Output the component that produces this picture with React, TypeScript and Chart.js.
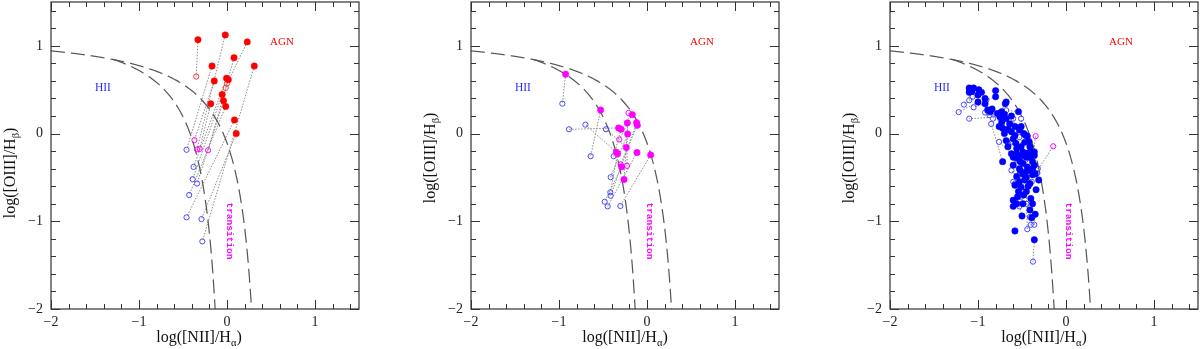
import React, { useEffect, useRef } from "react";
import { Chart, registerables } from "chart.js";
Chart.register(...registerables);

const FONT = '"Liberation Serif", "DejaVu Serif", serif';
const MONO = '"Liberation Mono", "DejaVu Sans Mono", monospace';

// Axis ranges and ticks
const X_MIN = -2;
const X_MAX = 1.5;
const Y_MIN = -2;
const Y_MAX = 1.5;
const MAJOR_STEP = 1;
const MINOR_STEP = 0.2;

// Demarcation curves (Kauffmann 2003, Kewley 2001): y = A / (x - B) + C
const KAUFFMANN = { a: 0.61, b: 0.05, c: 1.3, xStart: -1.3 };
const KEWLEY = { a: 0.61, b: 0.47, c: 1.19, xStart: -2 };

// Region labels
const REGION_TEXT = ["AGN", "HII", "transition"];
const REGION_X = [0.625, -1.41, 0.03];
const REGION_Y = [1.04, 0.525, -1.11];

// ---------- Panel 1 (AGN, filled red) ----------
const p1FilledX = [-0.33, -0.02, 0.23, 0.08, -0.17, 0.31, -0.145, -0.005, 0.015, -0.055, -0.04, -0.185, -0.015, 0.085, 0.105];
const p1FilledY = [1.07, 1.125, 1.045, 0.865, 0.77, 0.77, 0.6, 0.63, 0.615, 0.445, 0.375, 0.34, 0.31, 0.155, 0.0];
const p1OpenX = [-0.35, 0.0, -0.015, -0.37, -0.34, -0.31, -0.215, -0.46, -0.38, -0.39, -0.34, -0.43, -0.46, -0.29, -0.28];
const p1OpenY = [0.65, 0.57, 0.52, -0.075, -0.18, -0.175, -0.19, -0.185, -0.38, -0.52, -0.57, -0.7, -0.955, -0.975, -1.23];
const p1OpenType = ["A", "A", "A", "T", "T", "T", "T", "H", "H", "H", "H", "H", "H", "H", "H"];
const p1OpenLink = [0, 2, 3, 6, 1, 11, 8, 4, 7, 9, 10, 12, 13, 14, 5];

// ---------- Panel 2 (transition, filled magenta) ----------
const p2FilledX = [-0.925, -0.527, -0.167, -0.224, -0.118, -0.11, -0.322, -0.295, -0.22, -0.235, -0.349, -0.334, -0.114, 0.042, -0.288, -0.261];
const p2FilledY = [0.677, 0.268, 0.216, 0.121, 0.125, 0.094, 0.064, 0.049, -0.004, -0.159, -0.212, -0.23, -0.216, -0.243, -0.379, -0.523];
const p2OpenX = [-0.21, -0.315, -0.3, -0.227, -0.962, -0.886, -0.7, -0.466, -0.64, -0.379, -0.413, -0.417, -0.413, -0.481, -0.447, -0.303];
const p2OpenY = [0.235, -0.068, -0.35, -0.368, 0.341, 0.049, 0.102, 0.049, -0.258, -0.258, -0.497, -0.67, -0.709, -0.777, -0.83, -0.826];
const p2OpenType = ["T", "T", "T", "T", "H", "H", "H", "H", "H", "H", "H", "H", "H", "H", "H", "H"];
const p2OpenLink = [15, 2, 5, 3, 0, 6, 10, 9, 1, 7, 8, 11, 4, 14, 12, 13];

// ---------- Panel 3 (HII, filled blue) ----------
const p3FilledX = [
  -1.1, -1.05, -1.1, -0.96, -1.0, -0.92, -1.0, -0.92, -0.8, -0.8,
  -0.68, -0.69, -0.89, -0.86, -0.78, -0.75, -0.54, -0.73, -0.68, -0.64,
  -0.72, -0.76, -0.58, -0.62, -0.53, -0.7, -0.48, -0.44, -0.6, -0.68,
  -0.57, -0.51, -0.41, -0.36, -0.62, -0.56, -0.49, -0.72, -0.6, -0.55,
  -0.41, -0.49, -0.38, -0.44, -0.36, -0.41, -0.31, -0.49, -0.38, -0.56,
  -0.47, -0.41, -0.58, -0.51, -0.45, -0.34, -0.55, -0.6, -0.56, -0.6,
  -0.49, -0.38, -0.41, -0.35, -0.5, -0.39, -0.58, -0.36, -0.35, -0.53,
  -0.39, -0.36, -0.45, -0.51, -0.46, -0.66, -0.56, -0.47, -0.43, -0.52,
  -0.46, -0.53, -0.43, -0.48, -0.4, -0.54, -0.62, -0.84, -0.66, -0.58,
  -0.5, -0.38, -0.45, -0.52, -0.6, -0.42, -1.07, -0.99, -0.73, -0.7,
];
const p3FilledY = [
  0.52, 0.52, 0.47, 0.47, 0.44, 0.4, 0.36, 0.34, 0.49, 0.42,
  0.36, 0.34, 0.27, 0.25, 0.23, 0.19, 0.25, 0.13, 0.17, 0.11,
  0.06, 0.08, 0.08, 0.02, 0.04, 0.0, 0.0, -0.03, -0.06, -0.08,
  -0.11, -0.15, -0.15, -0.21, -0.23, -0.23, -0.21, -0.32, -0.36, -0.28,
  -0.27, -0.34, -0.32, -0.38, -0.36, -0.42, -0.53, -0.46, -0.47, -0.49,
  -0.53, -0.57, -0.59, -0.61, -0.66, -0.64, -0.72, -0.76, -0.8, -0.83,
  -0.8, -0.8, -0.87, -0.92, -0.94, -0.96, -1.11, -1.21, -0.46, -0.4,
  -0.21, -0.25, -0.27, 0.08, -0.02, -0.15, -0.17, -0.1, -0.22, -0.32,
  -0.44, -0.55, -0.6, -0.7, -0.74, -0.66, 0.2, 0.28, 0.05, -0.02,
  -0.25, -0.4, -0.5, -0.42, -0.27, -0.09, 0.48, 0.5, 0.25, 0.22,
];
const p3OpenX = [
  -1.22, -1.16, -1.1, -1.1, -1.06, -1.05, -1.1, -0.92, -0.905, -0.87, -0.83,
  -0.85, -0.68, -0.7, -0.6, -0.51, -0.76, -0.66, -0.53, -0.41, -0.62,
  -0.6, -0.58, -0.53, -0.53, -0.51, -0.45, -0.53, -0.41, -0.36, -0.4,
  -0.44, -0.375, -0.33, -0.32, -0.56, -0.345, -0.145, -0.88, -0.63, -0.46,
  -0.39, -0.62, -0.75,
];
const p3OpenY = [
  0.245, 0.33, 0.17, 0.49, 0.42, 0.3, 0.38, 0.24, 0.38, 0.21, 0.17,
  0.11, 0.265, 0.19, 0.17, 0.17, -0.095, -0.11, -0.04, -0.15, -0.42,
  -0.55, -0.57, -0.47, -0.66, -0.72, -0.8, -0.83, -0.95, -1.04, -1.04,
  -1.09, -1.46, -0.455, -0.4, -0.3, -0.03, -0.145, 0.24, 0.11, -0.3,
  -0.55, -0.1, 0.24,
];
const p3OpenType = [
  "H", "H", "H", "H", "H", "H", "H", "H", "H", "H", "H",
  "H", "H", "H", "H", "H", "H", "H", "H", "H", "H",
  "H", "H", "H", "H", "H", "H", "H", "H", "H", "H",
  "H", "H", "H", "H", "H", "T", "T", "H", "H", "H",
  "H", "H", "H",
];
const p3OpenLink = [
  6, 4, 15, 1, 3, 7, 2, 12, 9, 14, 17,
  37, 16, 18, 22, 26, 34, 30, 31, 44, 49,
  52, 56, 50, 58, 60, 62, 64, 61, 63, 65,
  54, 67, 48, 44, 38, 42, 68, 13, 23, 41,
  51, 29, 10,
];

const FILLED_COLOR = ["#ff0000", "#ff00ff", "#0000ff"];
const OPEN_COLOR: Record<string, string> = { A: "#ff3030", T: "#ff00ff", H: "#4848ff" };
const REGION_COLOR = ["#ff0000", "#2a2aff", "#ff00ff"];
const REGION_FONT = [`11px ${FONT}`, `11.5px ${FONT}`, `bold 9.5px ${MONO}`];

type PanelData = {
  fx: number[]; fy: number[]; ox: number[]; oy: number[]; ot: string[]; ol: number[]; color: string;
  yTitleCy: number; xTitleDx: number;
};

const PANELS: PanelData[] = [
  { fx: p1FilledX, fy: p1FilledY, ox: p1OpenX, oy: p1OpenY, ot: p1OpenType, ol: p1OpenLink, color: FILLED_COLOR[0], yTitleCy: 173, xTitleDx: -6 },
  { fx: p2FilledX, fy: p2FilledY, ox: p2OpenX, oy: p2OpenY, ot: p2OpenType, ol: p2OpenLink, color: FILLED_COLOR[1], yTitleCy: 158, xTitleDx: 0 },
  { fx: p3FilledX, fy: p3FilledY, ox: p3OpenX, oy: p3OpenY, ot: p3OpenType, ol: p3OpenLink, color: FILLED_COLOR[2], yTitleCy: 158, xTitleDx: 0 },
];
const PANEL_LEFT = [0, 420, 839];

function curvePoints(c: { a: number; b: number; c: number; xStart: number }) {
  const pts: { x: number; y: number }[] = [];
  const xEnd = c.b + c.a / (Y_MIN - c.c);
  for (let x = c.xStart; x < xEnd; x += 0.005) {
    pts.push({ x, y: c.a / (x - c.b) + c.c });
  }
  pts.push({ x: xEnd, y: Y_MIN });
  return pts;
}

function fmt(v: number) {
  return v < 0 ? "\u2212" + Math.abs(v) : String(v);
}

function drawTitle(ctx: CanvasRenderingContext2D, main: string, sub: string, tail: string, x: number, y: number, center: boolean) {
  const mf = `16px ${FONT}`;
  const sf = `10.5px ${FONT}`;
  ctx.font = mf;
  const w1 = ctx.measureText(main).width;
  const w3 = ctx.measureText(tail).width;
  ctx.font = sf;
  const w2 = ctx.measureText(sub).width;
  const total = w1 + w2 + w3;
  const sx = center ? x - total / 2 : x;
  ctx.textAlign = "left";
  ctx.textBaseline = "alphabetic";
  ctx.font = mf;
  ctx.fillText(main, sx, y);
  ctx.font = sf;
  ctx.fillText(sub, sx + w1, y + 4);
  ctx.font = mf;
  ctx.fillText(tail, sx + w1 + w2, y);
}

function makePlugin(p: PanelData) {
  return {
    id: "bptDecor",
    afterDraw(chart: any) {
      const ctx: CanvasRenderingContext2D = chart.ctx;
      const { left, right, top, bottom } = chart.chartArea;
      const xs = chart.scales.x;
      const ys = chart.scales.y;
      ctx.save();
      // box
      ctx.strokeStyle = "#333";
      ctx.lineWidth = 1.2;
      ctx.strokeRect(left, top, right - left, bottom - top);
      // ticks
      ctx.lineWidth = 1;
      ctx.beginPath();
      const nx = Math.round((X_MAX - X_MIN) / MINOR_STEP);
      for (let k = 0; k <= nx; k++) {
        const v = X_MIN + k * MINOR_STEP;
        const major = Math.abs(v / MAJOR_STEP - Math.round(v / MAJOR_STEP)) < 1e-6;
        const len = major ? 9 : 5;
        const px = Math.round(xs.getPixelForValue(v)) + 0.5;
        ctx.moveTo(px, bottom);
        ctx.lineTo(px, bottom - len);
        ctx.moveTo(px, top);
        ctx.lineTo(px, top + len);
      }
      const ny = Math.round((Y_MAX - Y_MIN) / MINOR_STEP);
      for (let k = 0; k <= ny; k++) {
        const v = Y_MIN + k * MINOR_STEP;
        const major = Math.abs(v / MAJOR_STEP - Math.round(v / MAJOR_STEP)) < 1e-6;
        const len = major ? 9 : 5;
        const py = Math.round(ys.getPixelForValue(v)) + 0.5;
        ctx.moveTo(left, py);
        ctx.lineTo(left + len, py);
        ctx.moveTo(right, py);
        ctx.lineTo(right - len, py);
      }
      ctx.stroke();

      // region labels
      for (let i = 0; i < REGION_TEXT.length; i++) {
        const px = xs.getPixelForValue(REGION_X[i]);
        const py = ys.getPixelForValue(REGION_Y[i]);
        ctx.font = REGION_FONT[i];
        ctx.fillStyle = REGION_COLOR[i];
        ctx.textAlign = "center";
        ctx.textBaseline = "middle";
        if (REGION_TEXT[i] === "transition") {
          ctx.save();
          ctx.translate(px, py);
          ctx.rotate(Math.PI / 2);
          ctx.fillText(REGION_TEXT[i], 0, 0);
          ctx.restore();
        } else {
          ctx.fillText(REGION_TEXT[i], px, py);
        }
      }

      // axis titles
      ctx.fillStyle = "#111";
      drawTitle(ctx, "log([NII]/H", "\u03b1", ")", (left + right) / 2 + p.xTitleDx, 342, true);
      ctx.save();
      ctx.translate(left - 36, p.yTitleCy);
      ctx.rotate(-Math.PI / 2);
      drawTitle(ctx, "log([OIII]/H", "\u03b2", ")", 0, 0, true);
      ctx.restore();
      ctx.restore();
    },
  };
}

function Panel({ p, left }: { p: PanelData; left: number }) {
  const ref = useRef<HTMLCanvasElement>(null);
  useEffect(() => {
    if (!ref.current) return;
    const datasets: any[] = [];
    datasets.push({
      data: p.fx.map((x, i) => ({ x, y: p.fy[i] })),
      showLine: false,
      pointRadius: 3.2,
      pointBackgroundColor: p.color,
      pointBorderColor: p.color,
      pointBorderWidth: 0.5,
    });
    datasets.push({
      data: p.ox.map((x, i) => ({ x, y: p.oy[i] })),
      showLine: false,
      pointRadius: 2.6,
      pointBackgroundColor: "rgba(0,0,0,0)",
      pointBorderColor: p.ot.map((t) => OPEN_COLOR[t]),
      pointBorderWidth: 1,
    });
    for (const c of [KAUFFMANN, KEWLEY]) {
      datasets.push({
        data: curvePoints(c),
        showLine: true,
        pointRadius: 0,
        borderColor: "#555",
        borderWidth: 1.2,
        borderDash: [14, 6],
        tension: 0,
      });
    }
    p.ol.forEach((fi, i) => {
      datasets.push({
        data: [
          { x: p.fx[fi], y: p.fy[fi] },
          { x: p.ox[i], y: p.oy[i] },
        ],
        showLine: true,
        pointRadius: 0,
        borderColor: "#8a8a8a",
        borderWidth: 1,
        borderDash: [1.5, 1.5],
      });
    });

    const tickFont = { family: FONT, size: 14 };
    const chart = new Chart(ref.current, {
      type: "scatter",
      data: { datasets },
      options: {
        animation: false,
        responsive: false,
        maintainAspectRatio: false,
        layout: { autoPadding: false, padding: { top: 2, right: 1, left: 0, bottom: 0 } },
        plugins: { legend: { display: false }, tooltip: { enabled: false } },
        scales: {
          x: {
            type: "linear",
            min: X_MIN,
            max: X_MAX,
            grid: { display: false, drawTicks: false },
            border: { display: false },
            ticks: {
              stepSize: MAJOR_STEP,
              includeBounds: false,
              padding: 5,
              color: "#222",
              font: tickFont,
              maxRotation: 0,
              autoSkip: false,
              callback: (v: any) => fmt(Number(v)),
            },
            afterFit: (s: any) => {
              s.height = 40;
              s.paddingLeft = 0;
              s.paddingRight = 0;
            },
          },
          y: {
            type: "linear",
            min: Y_MIN,
            max: Y_MAX,
            grid: { display: false, drawTicks: false },
            border: { display: false },
            ticks: {
              stepSize: MAJOR_STEP,
              includeBounds: false,
              padding: 8,
              color: "#222",
              font: tickFont,
              autoSkip: false,
              callback: (v: any) => fmt(Number(v)),
            },
            afterFit: (s: any) => {
              s.width = 51;
              s.paddingTop = 0;
              s.paddingBottom = 0;
            },
          },
        },
      } as any,
      plugins: [makePlugin(p)],
    });
    return () => chart.destroy();
  }, [p]);
  return (
    <canvas
      ref={ref}
      width={360}
      height={349}
      style={{ position: "absolute", left, top: 0, width: 360, height: 349 }}
    />
  );
}

export default function App() {
  return (
    <div style={{ position: "absolute", left: 0, top: 0, width: 1200, height: 349, background: "#fff", overflow: "hidden" }}>
      {PANELS.map((p, i) => (
        <Panel key={i} p={p} left={PANEL_LEFT[i]} />
      ))}
    </div>
  );
}
